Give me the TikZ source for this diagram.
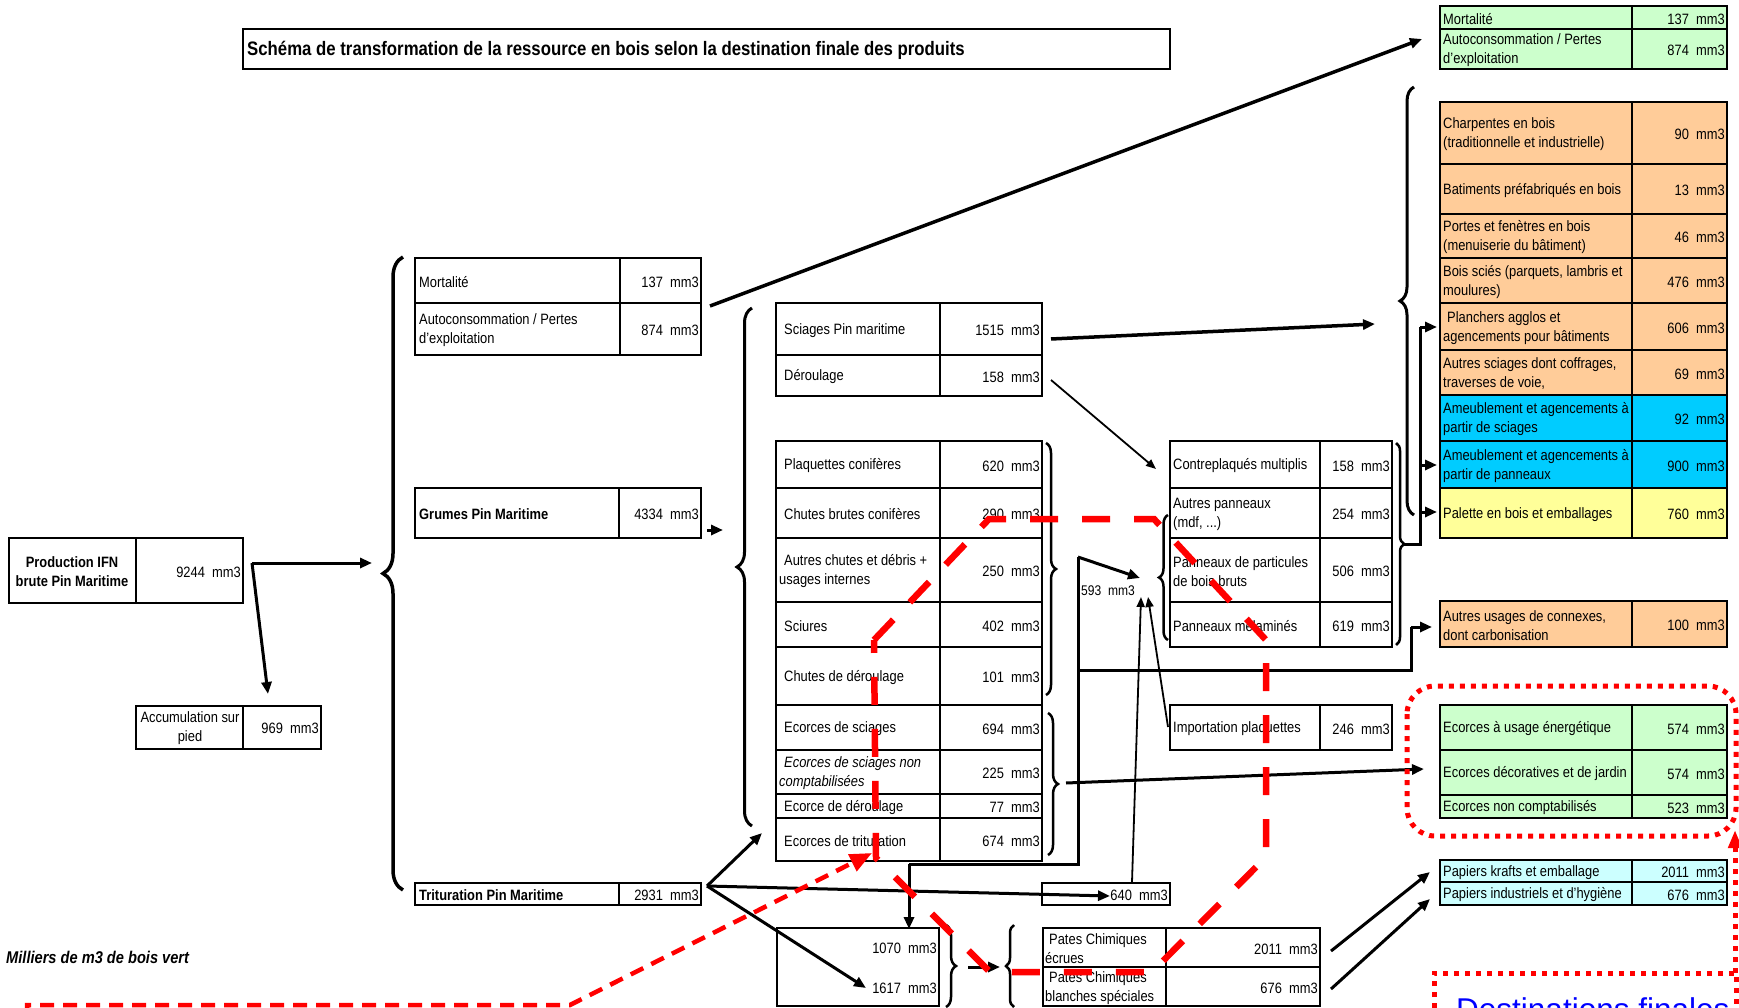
\documentclass[tikz,border=0pt]{standalone}
\usepackage{fontspec}
\setmainfont{Liberation Sans}[FakeStretch=0.86]
\newfontfamily\destfont{Liberation Sans}
\usetikzlibrary{arrows.meta,decorations.pathreplacing}
\definecolor{cgreen}{HTML}{CCFFCC}
\definecolor{corange}{HTML}{FFCC99}
\definecolor{cblue}{HTML}{00CCFF}
\definecolor{cyellow}{HTML}{FFFF99}
\definecolor{ccyan}{HTML}{CCFFFF}
\definecolor{cred}{HTML}{FF0000}
\definecolor{cdblue}{HTML}{0000FF}
\tikzset{
 lbl/.style={anchor=west,align=left,inner sep=0pt,font=\fontsize{15}{19}\selectfont},
 lblc/.style={align=center,inner sep=0pt,font=\fontsize{15}{19}\selectfont},
 val/.style={anchor=east,inner sep=0pt,font=\fontsize{15}{19}\selectfont},
 cellline/.style={line width=1.5pt},
 frame/.style={line width=2.6pt},
 conn/.style={line width=3pt},
 arr/.style={line width=3pt,-{Triangle[length=12pt,width=10pt]}},
 thinarr/.style={line width=1.8pt,-{Triangle[length=10pt,width=8pt]}},
 bracedeco/.style={decorate,decoration={brace,amplitude=#1},line width=3pt},
 redloop/.style={draw=cred,line width=6.5pt,dash pattern=on 28pt off 24pt},
 reddash/.style={draw=cred,line width=4.5pt,dash pattern=on 14pt off 9pt},
 reddot/.style={draw=cred,line width=5pt,dash pattern=on 5pt off 6pt},
}
\newcommand\lpad{4}
\newcommand\tabrow[9]{%
  \path[fill=#7] (#2,#5) rectangle (#4,#6);
  \draw[cellline] (#2,#5) rectangle (#3,#6) (#3,#5) rectangle (#4,#6);
  \node[lbl] (#1) at ({#2+\lpad},{(#5+#6)/2+1.5}) {#8};
  \node[val] (#1v) at ({#4-2},{(#5+#6)/2+1.5}) {#9~~mm3};
}
\begin{document}
\begin{tikzpicture}[x=1pt,y=-1pt]
\useasboundingbox (0,0) rectangle (1739,1008);
\clip (0,0) rectangle (1739,1008);
\fill[white] (0,0) rectangle (1739,1008);

% title
\draw[frame] (243,29) rectangle (1170,69);
\node[anchor=west,inner sep=0pt,font=\bfseries\fontsize{19.5}{22}\selectfont] (title) at (247,50) {Schéma de transformation de la ressource en bois selon la destination finale des produits};
\node[anchor=west,inner sep=0pt,font=\bfseries\itshape\fontsize{17}{20}\selectfont] (unit) at (6,957) {Milliers de m3 de bois vert};

% production
\draw[cellline] (9,538) rectangle (136,603) (136,538) rectangle (243,603);
\draw[frame] (9,538) rectangle (243,603);
\node[lblc,font=\bfseries\fontsize{15}{19}\selectfont] (prod) at (72,572) {Production IFN\\brute Pin Maritime};
\node[val] (prodv) at (241,572) {9244~~mm3};

% accumulation
\draw[cellline] (136,706) rectangle (243,749) (243,706) rectangle (321,749);
\draw[frame] (136,706) rectangle (321,749);
\node[lblc] (acc) at (190,728) {Accumulation sur\\pied};
\node[val] (accv) at (319,728) {969~~mm3};

% left column
\renewcommand\lpad{4}
\tabrow{mortL}{415}{620}{701}{258}{303}{white}{Mortalité}{137}
\tabrow{autoL}{415}{620}{701}{303}{355}{white}{Autoconsommation / Pertes\\d'exploitation}{874}
\draw[frame] (415,258) rectangle (701,355);
\tabrow{grumes}{415}{619}{701}{488}{538}{white}{\bfseries Grumes Pin Maritime}{4334}
\draw[frame] (415,488) rectangle (701,538);
\tabrow{trit}{415}{619}{701}{883}{905}{white}{\bfseries Trituration Pin Maritime}{2931}
\draw[frame] (415,883) rectangle (701,905);

% middle
\renewcommand\lpad{8}
\tabrow{sciages}{776}{940}{1042}{303}{355}{white}{Sciages Pin maritime}{1515}
\tabrow{derou}{776}{940}{1042}{355}{396}{white}{Déroulage}{158}
\draw[frame] (776,303) rectangle (1042,396);

\tabrow{plaq}{776}{940}{1042}{441}{488}{white}{Plaquettes conifères}{620}
\tabrow{chutes}{776}{940}{1042}{488}{538}{white}{Chutes brutes conifères}{290}
\renewcommand\lpad{3}
\tabrow{autresch}{776}{940}{1042}{538}{602}{white}{\hspace*{5pt}Autres chutes et débris +\\usages internes}{250}
\renewcommand\lpad{8}
\tabrow{sciures}{776}{940}{1042}{602}{647}{white}{Sciures}{402}
\tabrow{chder}{776}{940}{1042}{647}{705}{white}{Chutes de déroulage}{101}
\tabrow{ecsc}{776}{940}{1042}{705}{750}{white}{Ecorces de sciages}{694}
\renewcommand\lpad{3}
\tabrow{ecnc}{776}{940}{1042}{750}{794}{white}{\hspace*{5pt}\textit{Ecorces de sciages non}\\\textit{comptabilisées}}{225}
\renewcommand\lpad{8}
\tabrow{ecder}{776}{940}{1042}{794}{818}{white}{Ecorce de déroulage}{77}
\tabrow{ectr}{776}{940}{1042}{818}{861}{white}{Ecorces de trituration}{674}
\draw[frame] (776,441) rectangle (1042,861);

% panels
\renewcommand\lpad{3}
\tabrow{contre}{1170}{1320}{1392}{441}{488}{white}{Contreplaqués multiplis}{158}
\tabrow{autpan}{1170}{1320}{1392}{488}{538}{white}{Autres panneaux\\(mdf, ...)}{254}
\tabrow{partic}{1170}{1320}{1392}{538}{602}{white}{Panneaux de particules\\de bois bruts}{506}
\tabrow{melam}{1170}{1320}{1392}{602}{647}{white}{Panneaux mélaminés}{619}
\draw[frame] (1170,441) rectangle (1392,647);
\tabrow{import}{1170}{1320}{1392}{705}{750}{white}{Importation plaquettes}{246}
\draw[frame] (1170,705) rectangle (1392,750);

% 640 box
\draw[cellline] (1042,883) rectangle (1170,905);
\node[val] (b640) at (1168,895.5) {640~~mm3};

% 1070 box
\draw[frame] (777,928) rectangle (939,1006);
\node[val] (b1070) at (937,948.5) {1070~~mm3};
\node[val] (b1617) at (937,988.5) {1617~~mm3};

% pates
\renewcommand\lpad{2}
\tabrow{pecr}{1043}{1166}{1320}{928}{967}{white}{\hspace*{4pt}Pates Chimiques\\écrues}{2011}
\tabrow{pbla}{1043}{1166}{1320}{967}{1006}{white}{\hspace*{4pt}Pates Chimiques\\blanches spéciales}{676}
\draw[frame] (1043,928) rectangle (1320,1006);

% right column
\renewcommand\lpad{3}
\tabrow{mortR}{1440}{1632}{1727}{6}{29}{cgreen}{Mortalité}{137}
\tabrow{autoR}{1440}{1632}{1727}{29}{69}{cgreen}{Autoconsommation / Pertes\\d'exploitation}{874}
\draw[frame] (1440,6) rectangle (1727,69);

\tabrow{charp}{1440}{1632}{1727}{102}{164}{corange}{Charpentes en bois\\(traditionnelle et industrielle)}{90}
\tabrow{batim}{1440}{1632}{1727}{164}{214}{corange}{Batiments préfabriqués en bois}{13}
\tabrow{portes}{1440}{1632}{1727}{214}{258}{corange}{Portes et fenètres en bois\\(menuiserie du bâtiment)}{46}
\tabrow{boiss}{1440}{1632}{1727}{258}{303}{corange}{Bois sciés (parquets, lambris et\\moulures)}{476}
\tabrow{planch}{1440}{1632}{1727}{303}{350}{corange}{\hspace*{4pt}Planchers agglos et\\agencements pour bâtiments}{606}
\tabrow{autsc}{1440}{1632}{1727}{350}{395}{corange}{Autres sciages dont coffrages,\\traverses de voie,}{69}
\tabrow{ameubs}{1440}{1632}{1727}{395}{441}{cblue}{Ameublement et agencements à\\partir de sciages}{92}
\tabrow{ameubp}{1440}{1632}{1727}{441}{488}{cblue}{Ameublement et agencements à\\partir de panneaux}{900}
\tabrow{palette}{1440}{1632}{1727}{488}{538}{cyellow}{Palette en bois et emballages}{760}
\draw[frame] (1440,102) rectangle (1727,538);

\tabrow{autus}{1440}{1632}{1727}{601}{647}{corange}{Autres usages de connexes,\\dont carbonisation}{100}
\draw[frame] (1440,601) rectangle (1727,647);

\tabrow{ecen}{1440}{1632}{1727}{705}{750}{cgreen}{Ecorces à usage énergétique}{574}
\tabrow{ecdec}{1440}{1632}{1727}{750}{795}{cgreen}{Ecorces décoratives et de jardin}{574}
\tabrow{ecnon}{1440}{1632}{1727}{795}{818}{cgreen}{Ecorces non comptabilisés}{523}
\draw[frame] (1440,705) rectangle (1727,818);

\tabrow{papk}{1440}{1632}{1727}{860}{882}{ccyan}{Papiers krafts et emballage}{2011}
\tabrow{papi}{1440}{1632}{1727}{882}{905}{ccyan}{Papiers industriels et d'hygiène}{676}
\draw[frame] (1440,860) rectangle (1727,905);

% braces
\draw[bracedeco=20pt,line width=3.5pt] (403,890) -- (403,257);
\draw[bracedeco=15pt] (752,826) -- (752,308);
\draw[bracedeco=10pt,line width=2.5pt] (1046,443) -- (1046,695);
\draw[bracedeco=10pt,line width=2.5pt] (1048,713) -- (1048,855);
\draw[bracedeco=9pt,line width=2.5pt] (1168,640) -- (1168,515);
\draw[bracedeco=8pt,line width=2.5pt] (1396,443) -- (1396,645);
\draw[bracedeco=14pt] (1414,515) -- (1414,87);
\draw[bracedeco=10pt,line width=2.5pt] (946,925) -- (946,1007);
\draw[bracedeco=8pt,line width=2.5pt] (1014,1007) -- (1014,925);

% coordinates
\coordinate (pA) at (252,563);
\coordinate (bigL) at (372,563);
\coordinate (accTop) at (268,694);
\coordinate (grOut) at (707,530);
\coordinate (midIn) at (723,530);
\coordinate (mortOut) at (710,306);
\coordinate (topR) at (1422,39);
\coordinate (scOut) at (1051,339);
\coordinate (rbIn) at (1375,324);
\coordinate (deOut) at (1051,380);
\coordinate (ctIn) at (1156,469);
\coordinate (pnTip) at (1403,544);
\coordinate (pnV) at (1420,544);
\coordinate (pnTop) at (1420,327);
\coordinate (trOut) at (707,886);
\coordinate (ectrIn) at (762,833);
\coordinate (b640In) at (1110,896);
\coordinate (b1617In) at (866,988);
\coordinate (plTop) at (1078,557);
\coordinate (plBot) at (1078,864);
\coordinate (plL) at (909,864);
\coordinate (b1070In) at (909,929);
\coordinate (n593) at (1140,578);
\coordinate (plMid) at (1078,670);
\coordinate (auR) at (1411,670);
\coordinate (auUp) at (1411,627);
\coordinate (auIn) at (1432,627);
\coordinate (ecOut) at (1066,783);
\coordinate (ecIn) at (1424,769);
\coordinate (u640) at (1132,882);
\coordinate (u640e) at (1141,597);
\coordinate (impOut) at (1168,727);
\coordinate (impE) at (1148,597);
\coordinate (brOut) at (968,967);
\coordinate (brIn) at (1000,967);
\coordinate (pa1) at (1331,951);
\coordinate (pa2) at (1331,989);
\coordinate (pk) at (1430,872);
\coordinate (pi) at (1430,899);

% connectors
\draw[arr] (pA) -- (bigL);
\draw[arr] (pA) -- (accTop);
\draw[arr] (grOut) -- (midIn);
\draw[arr,line width=3.5pt] (mortOut) -- (topR);
\draw[arr,line width=3.5pt] (scOut) -- (rbIn);
\draw[thinarr] (deOut) -- (ctIn);
\draw[conn] (pnTip) -- (pnV) -- (pnTop);
\draw[arr] (pnTop) -- (1437,327);
\draw[arr] (1420,465) -- (1437,465);
\draw[arr] (1420,512) -- (1437,512);
\draw[arr] (trOut) -- (ectrIn);
\draw[arr] (trOut) -- (b640In);
\draw[arr] (trOut) -- (b1617In);
\draw[conn] (plTop) -- (plBot) -- (plL);
\draw[arr] (plL) -- (b1070In);
\draw[arr] (plTop) -- (n593);
\node[inner sep=0pt,font=\fontsize{14}{16}\selectfont] (l593) at (1108,591) {593~~mm3};
\draw[conn] (plMid) -- (auR) -- (auUp);
\draw[arr] (auUp) -- (auIn);
\draw[arr] (ecOut) -- (ecIn);
\draw[thinarr] (u640) -- (u640e);
\draw[thinarr] (impOut) -- (impE);
\draw[arr] (brOut) -- (brIn);
\draw[arr] (pa1) -- (pk);
\draw[arr] (pa2) -- (pi);

% red overlays
\draw[redloop] (874,640) -- (989,519) -- (1154,519) -- (1266,640) -- (1266,857) -- (1152,972) -- (990,972) -- (876,858) -- cycle;
\coordinate (rdA) at (27,1015);
\coordinate (rdB) at (27,1005);
\coordinate (rdC) at (570,1005);
\coordinate (rdD) at (872,853);
\draw[reddash,-{Triangle[length=22pt,width=18pt]}] (rdA) -- (rdB) -- (rdC) -- (rdD);
\draw[reddot,rounded corners=28pt] (1407,686) rectangle (1736,836);
\draw[reddot] (1434,1030) -- (1434,973) -- (1736,973) -- (1736,1030);
\draw[reddot,-{Triangle[length=18pt,width=13pt]}] (1735,973) -- (1735,830);
\node[anchor=base west,inner sep=0pt,text=cdblue,font=\destfont\fontsize{31.5}{32}\selectfont] (dest) at (1456,1020) {Destinations finales};
\end{tikzpicture}
\end{document}
